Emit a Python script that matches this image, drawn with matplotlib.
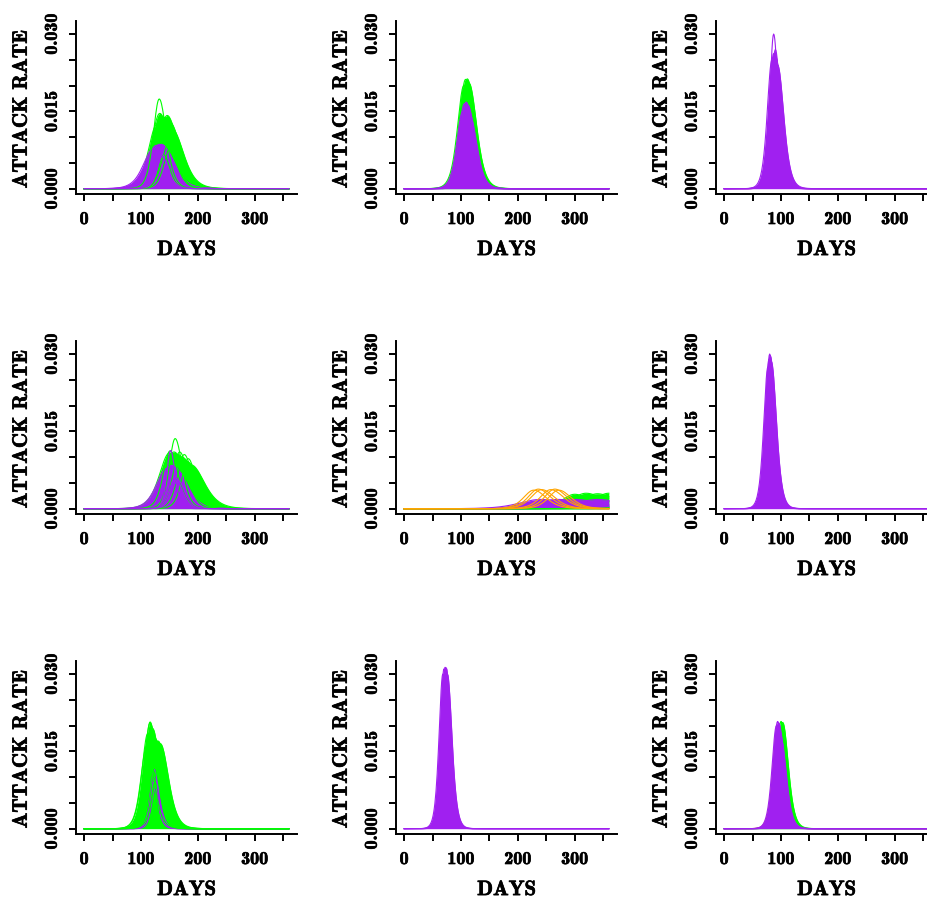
import numpy as np
import matplotlib
matplotlib.use('Agg')
import matplotlib.pyplot as plt
import matplotlib.patheffects as pe

plt.rcParams['font.family'] = ['cmb10', 'DejaVu Serif']

GREEN = '#00ff00'
PURPLE = '#a020f0'
ORANGE = '#ffa500'

DAYS = np.arange(0, 361)

X_TICKS = [0, 50, 100, 150, 200, 250, 300, 350]
X_LABELS = {0: '0', 100: '100', 200: '200', 300: '300'}
Y_TICKS = [0.000, 0.005, 0.010, 0.015, 0.020, 0.025, 0.030]
Y_LABELS = {0.000: '0.000', 0.015: '0.015', 0.030: '0.030'}

# each run: peak day, peak attack rate, spread in days
# panel 1
p1_green_peak = [128, 133, 138, 142, 146, 150, 155]
p1_green_height = [0.0125, 0.0146, 0.0140, 0.0138, 0.0142, 0.0130, 0.0115]
p1_green_width = [20, 20, 21, 21, 21, 22, 22]
p1_purple_peak = [122, 127, 132, 136, 140]
p1_purple_height = [0.0078, 0.0084, 0.0086, 0.0086, 0.0080]
p1_purple_width = [24, 24, 23, 23, 22]
p1_green_runs_peak = [132, 148, 152, 140]
p1_green_runs_height = [0.0174, 0.0085, 0.0082, 0.0066]
p1_green_runs_width = [14, 16, 15, 12]
p1_purple_runs_peak = [137, 134]
p1_purple_runs_height = [0.0062, 0.0070]
p1_purple_runs_width = [12, 14]

# panel 2
p2_green_peak = [105, 108, 111, 114]
p2_green_height = [0.0200, 0.0212, 0.0213, 0.0205]
p2_green_width = [15, 15, 15, 15]
p2_purple_peak = [103, 106, 109, 112, 115]
p2_purple_height = [0.0150, 0.0165, 0.0168, 0.0162, 0.0145]
p2_purple_width = [14, 14, 14, 14, 14]
p2_purple_runs_peak = [110, 114, 108]
p2_purple_runs_height = [0.0115, 0.0125, 0.0135]
p2_purple_runs_width = [11, 12, 12]

# panel 3
p3_orange_peak = [92]
p3_orange_height = [0.0180]
p3_orange_width = [11]
p3_purple_peak = [84, 87, 89, 91, 94]
p3_purple_height = [0.0250, 0.0262, 0.0265, 0.0255, 0.0240]
p3_purple_width = [11, 11, 11, 11, 12]
p3_purple_runs_peak = [87, 90]
p3_purple_runs_height = [0.0300, 0.0270]
p3_purple_runs_width = [9, 10]

# panel 4
p4_orange_peak = [165, 175]
p4_orange_height = [0.0060, 0.0055]
p4_orange_width = [22, 22]
p4_green_peak = [150, 158, 165, 172, 180, 188]
p4_green_height = [0.0108, 0.0110, 0.0105, 0.0100, 0.0092, 0.0085]
p4_green_width = [24, 24, 24, 25, 25, 26]
p4_purple_peak = [145, 150, 154, 158, 162]
p4_purple_height = [0.0078, 0.0082, 0.0084, 0.0082, 0.0076]
p4_purple_width = [24, 23, 22, 22, 22]
p4_green_runs_peak = [160, 168, 151, 183, 176]
p4_green_runs_height = [0.0136, 0.0110, 0.0112, 0.0097, 0.0105]
p4_green_runs_width = [14, 16, 16, 15, 16]
p4_purple_runs_peak = [152, 160, 165]
p4_purple_runs_height = [0.0113, 0.0060, 0.0055]
p4_purple_runs_width = [9, 14, 14]

# panel 5
p5_green_peak = [300, 320, 340, 360, 380]
p5_green_height = [0.0028, 0.0030, 0.0029, 0.0030, 0.0028]
p5_green_width = [30, 35, 35, 35, 35]
p5_purple_peak = [240, 270, 300, 340, 380, 420]
p5_purple_height = [0.0018, 0.0018, 0.0018, 0.0018, 0.0018, 0.0018]
p5_purple_width = [50, 50, 50, 50, 50, 50]
p5_green_runs_peak = [420, 440, 460]
p5_green_runs_height = [0.0030, 0.0030, 0.0030]
p5_green_runs_width = [30, 30, 30]
p5_orange_peak = [228, 236, 242, 258, 265, 272]
p5_orange_height = [0.0036, 0.0038, 0.0037, 0.0037, 0.0038, 0.0036]
p5_orange_width = [24, 24, 25, 25, 24, 24]

# panel 6
p6_purple_peak = [77, 79, 81, 83]
p6_purple_height = [0.0275, 0.0290, 0.0297, 0.0285]
p6_purple_width = [10, 10, 10, 10]
p6_purple_runs_peak = [80]
p6_purple_runs_height = [0.0300]
p6_purple_runs_width = [9]

# panel 7
p7_green_peak = [112, 116, 120, 125, 130, 134]
p7_green_height = [0.0185, 0.0205, 0.0195, 0.0175, 0.0170, 0.0165]
p7_green_width = [14, 14, 15, 15, 16, 16]
p7_purple_peak = [121, 123, 125, 124]
p7_purple_height = [0.0090, 0.0115, 0.0078, 0.0100]
p7_purple_width = [9, 9, 9, 10]
p7_green_runs_peak = [116, 118, 128, 131, 110, 135]
p7_green_runs_height = [0.0207, 0.0195, 0.0170, 0.0168, 0.0160, 0.0150]
p7_green_runs_width = [13, 13, 14, 14, 14, 15]

# panel 8
p8_purple_peak = [68, 70, 72, 74, 76]
p8_purple_height = [0.0300, 0.0310, 0.0313, 0.0312, 0.0300]
p8_purple_width = [9, 9, 9, 9, 9]

# panel 9
p9_orange_peak = [94]
p9_orange_height = [0.0200]
p9_orange_width = [11]
p9_green_peak = [100, 103]
p9_green_height = [0.0208, 0.0206]
p9_green_width = [11, 11]
p9_purple_peak = [92, 94, 96, 98, 100]
p9_purple_height = [0.0200, 0.0208, 0.0205, 0.0190, 0.0175]
p9_purple_width = [10.5, 10.5, 10.5, 10.5, 10.5]
p9_purple_runs_peak = [96]
p9_purple_runs_height = [0.0150]
p9_purple_runs_width = [9]

# (colour, peaks, heights, widths, filled) in drawing order
panels = [
    [(GREEN, p1_green_peak, p1_green_height, p1_green_width, True),
     (PURPLE, p1_purple_peak, p1_purple_height, p1_purple_width, True),
     (GREEN, p1_green_runs_peak, p1_green_runs_height, p1_green_runs_width, False),
     (PURPLE, p1_purple_runs_peak, p1_purple_runs_height, p1_purple_runs_width, False)],
    [(GREEN, p2_green_peak, p2_green_height, p2_green_width, True),
     (PURPLE, p2_purple_peak, p2_purple_height, p2_purple_width, True),
     (PURPLE, p2_purple_runs_peak, p2_purple_runs_height, p2_purple_runs_width, False)],
    [(ORANGE, p3_orange_peak, p3_orange_height, p3_orange_width, False),
     (PURPLE, p3_purple_peak, p3_purple_height, p3_purple_width, True),
     (PURPLE, p3_purple_runs_peak, p3_purple_runs_height, p3_purple_runs_width, False)],
    [(ORANGE, p4_orange_peak, p4_orange_height, p4_orange_width, False),
     (GREEN, p4_green_peak, p4_green_height, p4_green_width, True),
     (PURPLE, p4_purple_peak, p4_purple_height, p4_purple_width, True),
     (GREEN, p4_green_runs_peak, p4_green_runs_height, p4_green_runs_width, False),
     (PURPLE, p4_purple_runs_peak, p4_purple_runs_height, p4_purple_runs_width, False)],
    [(GREEN, p5_green_peak, p5_green_height, p5_green_width, True),
     (PURPLE, p5_purple_peak, p5_purple_height, p5_purple_width, True),
     (GREEN, p5_green_runs_peak, p5_green_runs_height, p5_green_runs_width, False),
     (ORANGE, p5_orange_peak, p5_orange_height, p5_orange_width, False)],
    [(PURPLE, p6_purple_peak, p6_purple_height, p6_purple_width, True),
     (PURPLE, p6_purple_runs_peak, p6_purple_runs_height, p6_purple_runs_width, False)],
    [(GREEN, p7_green_peak, p7_green_height, p7_green_width, True),
     (PURPLE, p7_purple_peak, p7_purple_height, p7_purple_width, False),
     (GREEN, p7_green_runs_peak, p7_green_runs_height, p7_green_runs_width, False)],
    [(PURPLE, p8_purple_peak, p8_purple_height, p8_purple_width, True)],
    [(ORANGE, p9_orange_peak, p9_orange_height, p9_orange_width, False),
     (GREEN, p9_green_peak, p9_green_height, p9_green_width, True),
     (PURPLE, p9_purple_peak, p9_purple_height, p9_purple_width, True),
     (PURPLE, p9_purple_runs_peak, p9_purple_runs_height, p9_purple_runs_width, False)],
]


def curve(peak, height, width):
    # slightly longer tail after the peak
    w = np.where(DAYS < peak, width, width * 1.2)
    return height / np.cosh((DAYS - peak) / w) ** 2


W, H = 928, 902
fig = plt.figure(figsize=(W / 100, H / 100), dpi=100)

col_left = [76, 396, 716]
row_bottom = [194.3, 514.3, 834.3]
ax_w, ax_h = 221, 173.6

bold = [pe.withStroke(linewidth=0.5, foreground='black')]

for i, layers in enumerate(panels):
    r, c = divmod(i, 3)
    ax = fig.add_axes([col_left[c] / W, 1 - row_bottom[r] / H, ax_w / W, ax_h / H])

    # keep layers stacked in the order they are listed
    z = 1
    for color, peaks, heights, widths, filled in layers:
        runs = [curve(p, h, w) for p, h, w in zip(peaks, heights, widths)]
        if filled:
            ax.fill_between(DAYS, 0, np.max(runs, axis=0), color=color, lw=0, zorder=z)
        for y in runs:
            ax.plot(DAYS, y, color=color, lw=0.8, zorder=z)
        z += 1

    ax.set_xlim(-14.4, 374.4)
    ax.set_ylim(-0.001086, 0.03258)
    for s in ['top', 'right']:
        ax.spines[s].set_visible(False)
    for s in ['left', 'bottom']:
        ax.spines[s].set_linewidth(1.4)
        ax.spines[s].set_zorder(20)
    ax.set_xticks(X_TICKS)
    ax.set_yticks(Y_TICKS)
    ax.tick_params(length=5, width=1.4, labelbottom=False, labelleft=False)

    for x, lab in X_LABELS.items():
        ax.text(x, -0.171, lab, transform=ax.get_xaxis_transform(),
                ha='center', va='baseline', fontsize=13, path_effects=bold)
    for y, lab in Y_LABELS.items():
        ax.text(-0.0873, y, lab, transform=ax.get_yaxis_transform(),
                rotation=90, rotation_mode='anchor',
                ha='center', va='baseline', fontsize=13, path_effects=bold)

    ax.text(0.5, -0.350, 'DAYS', transform=ax.transAxes,
            ha='center', va='baseline', fontsize=15, path_effects=bold)
    ax.text(-0.223, 0.49, 'ATTACK RATE', transform=ax.transAxes,
            rotation=90, rotation_mode='anchor',
            ha='center', va='baseline', fontsize=15, path_effects=bold)

fig.savefig('out.png', dpi=100)
